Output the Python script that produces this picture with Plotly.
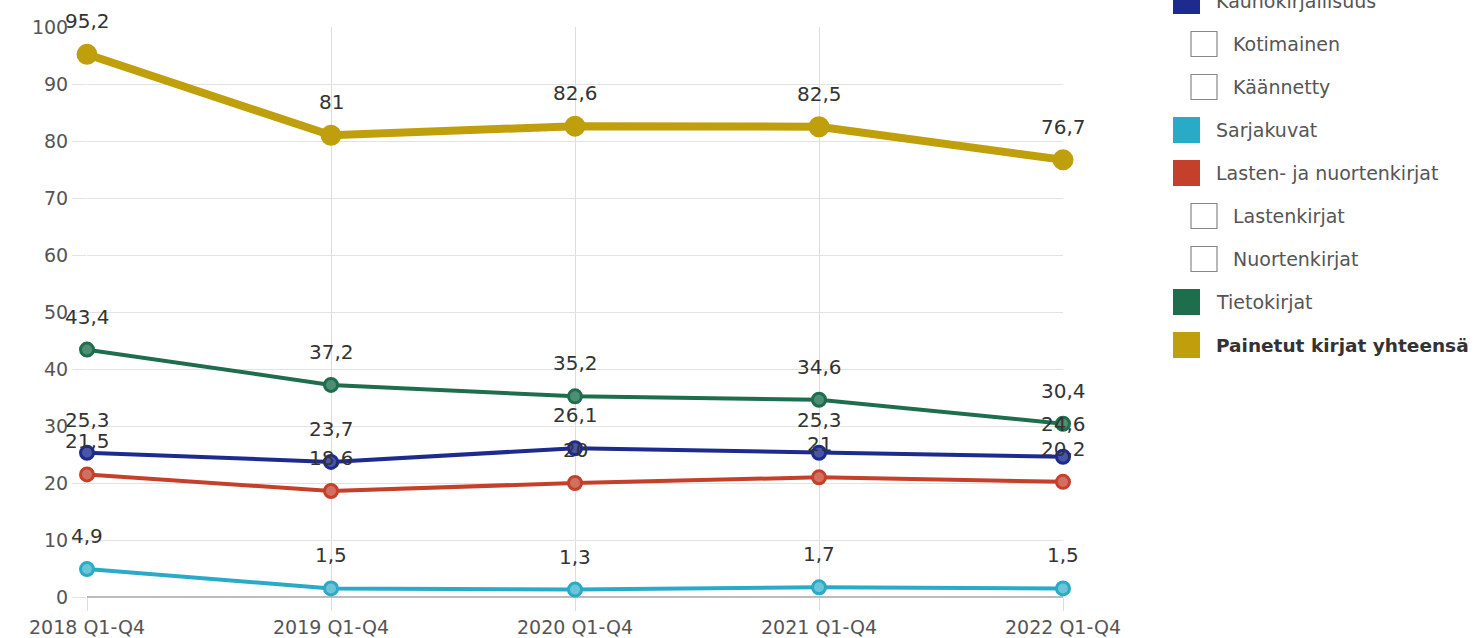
import plotly.graph_objects as go

categories = ["2018 Q1-Q4", "2019 Q1-Q4", "2020 Q1-Q4", "2021 Q1-Q4", "2022 Q1-Q4"]
painetut = [95.2, 81, 82.6, 82.5, 76.7]
tietokirjat = [43.4, 37.2, 35.2, 34.6, 30.4]
kauno = [25.3, 23.7, 26.1, 25.3, 24.6]
lasten = [21.5, 18.6, 20, 21, 20.2]
sarjakuvat = [4.9, 1.5, 1.3, 1.7, 1.5]
y_ticks = [0, 10, 20, 30, 40, 50, 60, 70, 80, 90, 100]

legend_items = ["Kaunokirjallisuus", "Kotimainen", "Käännetty", "Sarjakuvat",
                "Lasten- ja nuortenkirjat", "Lastenkirjat", "Nuortenkirjat",
                "Tietokirjat", "Painetut kirjat yhteensä"]
legend_colors = ["#1d2a8e", None, None, "#29aac6", "#c4402a", None, None, "#1e6e4e", "#bf9f0c"]

series = [
    ("Lasten- ja nuortenkirjat", lasten, "#c4402a", "#d27060", 4, 13),
    ("Sarjakuvat", sarjakuvat, "#29aac6", "#6cc4d8", 4, 13),
    ("Kaunokirjallisuus", kauno, "#1d2a8e", "#4a55a6", 4, 13),
    ("Tietokirjat", tietokirjat, "#1e6e4e", "#4e8e74", 4, 13),
    ("Painetut kirjat yhteensä", painetut, "#bf9f0c", "#bf9f0c", 8, 18),
]

W, H = 1475, 638
ML, MR, MT, MB = 87, 412, 27, 41
PW = W - ML - MR
PH = H - MT - MB

FONT = "DejaVu Sans"

fig = go.Figure()
annotations = []
for name, vals, color, fill, lw, ms in series:
    fig.add_trace(go.Scatter(
        x=categories, y=vals, mode="lines+markers", name=name,
        line=dict(color=color, width=lw),
        marker=dict(color=fill, size=ms, line=dict(color=color, width=3)),
        cliponaxis=False, showlegend=False,
    ))
    for c, v in zip(categories, vals):
        annotations.append(dict(
            x=c, y=v, xref="x", yref="y", text=f"{v:g}".replace(".", ","),
            showarrow=False, yshift=33, yanchor="middle", xanchor="center",
            font=dict(family=FONT, size=20, color="#333333"),
        ))

def px_x(px):
    return (px - ML) / PW

def px_y(py):
    return (H - MB - py) / PH

shapes = []
for i, (label, col) in enumerate(zip(legend_items, legend_colors)):
    cy = 1 + 43 * i
    if col is not None:
        x0, x1 = 1173, 1200
        shapes.append(dict(type="rect", xref="paper", yref="paper",
                           x0=px_x(x0), x1=px_x(x1), y0=px_y(cy + 13), y1=px_y(cy - 13),
                           fillcolor=col, line=dict(width=0)))
        tx = 1214
    else:
        x0, x1 = 1191, 1217
        shapes.append(dict(type="rect", xref="paper", yref="paper",
                           x0=px_x(x0), x1=px_x(x1), y0=px_y(cy + 12.5), y1=px_y(cy - 12.5),
                           fillcolor="white", line=dict(width=1.2, color="#888888")))
        tx = 1231
    bold = label == "Painetut kirjat yhteensä"
    annotations.append(dict(
        x=px_x(tx), y=px_y(cy), xref="paper", yref="paper",
        text=f"<b>{label}</b>" if bold else label, showarrow=False,
        xanchor="left", yanchor="middle",
        font=dict(family=FONT, size=18.5 if bold else 19, color="#333333" if bold else "#555555"),
    ))

fig.update_layout(
    width=W, height=H,
    margin=dict(l=ML, r=MR, t=MT, b=MB, autoexpand=False),
    plot_bgcolor="white", paper_bgcolor="white",
    showlegend=False,
    annotations=annotations, shapes=shapes,
    xaxis=dict(type="category", range=[0, 4], showgrid=True, gridcolor="#dddddd", gridwidth=1,
               ticks="outside", ticklen=13, tickcolor="#dddddd", showline=False, zeroline=False,
               automargin=False,
               tickfont=dict(family=FONT, size=19, color="#555555")),
    yaxis=dict(range=[0, 100], tickvals=y_ticks, showgrid=True, gridcolor="#e2e2e2", gridwidth=1,
               ticks="outside", ticklen=14, tickcolor="#e2e2e2", zeroline=True, zerolinecolor="#bbbbbb",
               zerolinewidth=1.5, showline=False, automargin=False,
               tickfont=dict(family=FONT, size=19, color="#555555")),
)

fig.write_html("out.html", config={"displayModeBar": False},
               post_script="document.body.style.margin='0';document.body.style.overflow='hidden';")
